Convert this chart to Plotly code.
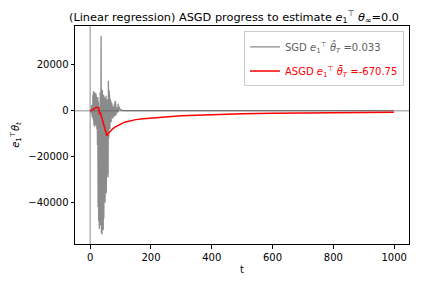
import numpy as np
import plotly.graph_objects as go

# ---- data ----
sgd_t = list(range(0, 107)) + [110, 999]
sgd_v = [0, 300, -500, 1200, -800, 2500, -2000, 5000, -3000, 7000,
         -4000, 8500, -6000, 6000, -7000, 8000, -5000, 4000, -6500, 7500,
         -3000, 5000, -8000, 3000, -15000, 6000, -42000, 4000, -48000, 2000,
         -51500, 5000, -45000, 8000, -50000, 12000, 32600, -53000, 6000, -53800,
         9000, -50000, 5000, -52000, 7000, -47000, 6000, -43000, 5000, -40000,
         4000, -38000, 6500, -36000, 3000, -30000, 5000, -25000, 2000, -29000,
         13000, -12000, 9000, -10000, 6000, -8000, 5000, -6000, 4000, -5000,
         3500, -4500, 2500, -3000, 2000, -3500, 1500, -2500, 2000, -2000,
         3000, -2500, 4300, -1500, 3000, -2000, 1500, -1500, 1000, -500,
         2500, -800, 3000, -500, 2000, -300, 1200, 500, 800, 300,
         500, 200, 300, 100, 200, 100, 50, 0.033, 0.033]

asgd_t = [0, 5, 10, 15, 20, 25, 28, 31, 34, 37, 40, 45, 50, 55, 58, 62, 66, 70,
          80, 90, 100, 110, 120, 137, 150, 175, 200, 250, 300, 350, 400, 450,
          500, 600, 700, 800, 900, 999]
asgd_v = [0, 200, 600, 1000, 1500, 1400, 1000, -1500, -800, -2500, -4000, -6500,
          -9000, -10900, -10200, -9500, -9000, -8400, -7300, -6500, -5800, -5200,
          -4800, -4200, -3900, -3500, -3200, -2650, -2250, -1950, -1700, -1520,
          -1380, -1160, -1000, -870, -760, -670.75]

x_ticks = [0, 200, 400, 600, 800, 1000]
x_ticktext = ["0", "200", "400", "600", "800", "1000"]
y_ticks = [-40000, -20000, 0, 20000]
y_ticktext = ["\u221240000", "\u221220000", "0", "20000"]
ref_x = 0
ref_y = 0

sgd_color = "#606060"
asgd_color = "red"
sgd_label = ("<span style='color:%s'>SGD <i>e</i><sub>1</sub><sup>\u22a4</sup> "
             "<i>\u03b8\u0302<sub>T</sub></i> =0.033</span>" % sgd_color)
asgd_label = ("<span style='color:red'>ASGD <i>e</i><sub>1</sub><sup>\u22a4</sup> "
              "<i>\u03b8\u0304<sub>T</sub></i> =-670.75</span>")
title_text = ("(Linear regression) ASGD progress to estimate "
              "<i>e</i><sub>1</sub><sup>\u22a4</sup> <i>\u03b8</i><sub>\u221e</sub>=0.0")

# ---- ranges like matplotlib auto-margins ----
all_t = sgd_t + asgd_t
all_v = sgd_v + asgd_v
tmin, tmax = min(all_t), max(all_t)
vmin, vmax = min(all_v), max(all_v)
xr = [tmin - 0.05 * (tmax - tmin), tmax + 0.05 * (tmax - tmin)]
yr = [vmin - 0.05 * (vmax - vmin), vmax + 0.05 * (vmax - vmin)]

fig = go.Figure()
fig.add_trace(go.Scatter(x=sgd_t, y=sgd_v, mode="lines", name=sgd_label, legendgroup="a",
                         line=dict(color="rgba(90,90,90,0.7)", width=1.3)))
fig.add_trace(go.Scatter(x=asgd_t, y=asgd_v, mode="lines", name=asgd_label, legendgroup="b",
                         line=dict(color=asgd_color, width=1.5)))

fig.add_hline(y=ref_y, line=dict(color="rgba(128,128,128,0.6)", width=1.5), layer="below")
fig.add_vline(x=ref_x, line=dict(color="rgba(128,128,128,0.6)", width=1.5), layer="below")

axis_common = dict(showgrid=False, zeroline=False, showline=True, linecolor="black",
                   linewidth=1, mirror=True, ticks="outside", ticklen=3.5,
                   tickcolor="black", tickfont=dict(size=10, color="black"),
                   automargin=False)

fig.update_layout(
    width=423, height=282,
    margin=dict(l=75, r=14, t=26, b=38, autoexpand=False),
    plot_bgcolor="white", paper_bgcolor="white",
    font=dict(family="DejaVu Sans", size=10, color="black"),
    title=dict(text=title_text, x=0.476, xref="paper", xanchor="center",
               y=1 - 17 / 282, yref="container", yanchor="middle", automargin=False,
               font=dict(size=11.3, color="black")),
    xaxis=dict(range=xr, tickvals=x_ticks, ticktext=x_ticktext,
               title=dict(text="t", standoff=4, font=dict(size=10)), **axis_common),
    yaxis=dict(range=yr, tickvals=y_ticks, ticktext=y_ticktext,
               title=dict(text="<i>e</i><sub>1</sub><sup>\u22a4</sup><i>\u03b8<sub>t</sub></i>",
                          standoff=6, font=dict(size=10)), **axis_common),
    legend=dict(x=0.985, y=0.975, xanchor="right", yanchor="top",
                bgcolor="rgba(255,255,255,0.8)", bordercolor="#cccccc", borderwidth=1,
                font=dict(size=10), itemwidth=30, tracegroupgap=5),
    showlegend=True,
)

fig.write_html("out.html", config={"displayModeBar": False},
               post_script="document.body.style.margin='0';")
